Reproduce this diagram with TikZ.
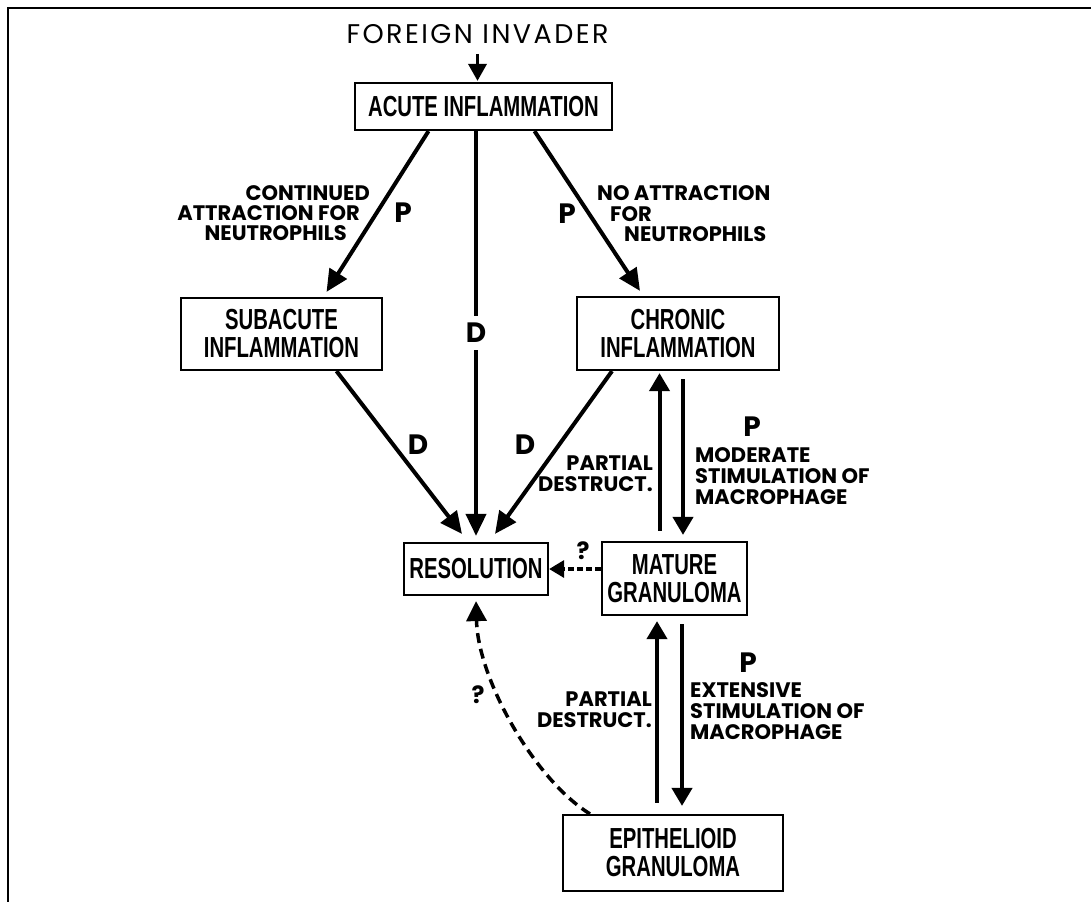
\documentclass[tikz,border=0pt]{standalone}
\usepackage{fontspec}
\setmainfont{Poppins}
\newfontfamily\boxfont[FakeStretch=0.70]{Liberation Sans}
\newfontfamily\topfont[LetterSpace=9]{Poppins}
\usetikzlibrary{arrows.meta}
\begin{document}
\begin{tikzpicture}[x=1pt,y=-1pt,
  box/.style={draw, line width=2.2pt, align=center, inner sep=0pt,
    font=\boxfont\bfseries\fontsize{29}{28}\selectfont},
  lab/.style={inner sep=0pt, font=\bfseries\fontsize{21}{21}\selectfont},
  big/.style={inner sep=0pt, font=\bfseries\fontsize{28}{28}\selectfont},
  qmark/.style={inner sep=0pt, font=\bfseries\fontsize{24}{24}\selectfont},
  arr/.style={line width=4pt, -{Triangle[length=22pt,width=20pt]}},
  varr/.style={line width=4pt, -{Triangle[length=18pt,width=20pt]}},
  dotarr/.style={line width=3.2pt, dash pattern=on 6pt off 3pt, -{Triangle[length=15pt,width=17pt]}},
  curvarr/.style={line width=3.5pt, dash pattern=on 10pt off 6pt, -{Triangle[length=20pt,width=20pt]}},
  frame/.style={line width=2.5pt}]
\useasboundingbox (0,0) rectangle (1091,902);
% frame (top and left only)
\draw[frame] (1091,8) -- (8,8) -- (8,902);

% boxes
\node[box, minimum width=257pt, minimum height=47pt] (acute) at (483.5,106.5) {ACUTE INFLAMMATION};
\node[box, minimum width=201pt, minimum height=72pt] (subacute) at (281.5,334) {SUBACUTE\\INFLAMMATION};
\node[box, minimum width=202pt, minimum height=73pt] (chronic) at (678,333.5) {CHRONIC\\INFLAMMATION};
\node[box, minimum width=144pt, minimum height=52pt] (resolution) at (476,569) {RESOLUTION};
\node[box, minimum width=145pt, minimum height=73pt] (mature) at (674.5,578.5) {MATURE\\GRANULOMA};
\node[box, minimum width=220pt, minimum height=76pt] (epithelioid) at (673,853) {EPITHELIOID\\GRANULOMA};

% top text
\node[inner sep=0pt, font=\topfont\fontsize{27}{27}\selectfont] (invader) at (477.5,34) {FOREIGN INVADER};

% labels
\node[lab, anchor=east] (cont1) at (370,193) {CONTINUED};
\node[lab, anchor=east] (cont2) at (360,213) {ATTRACTION FOR};
\node[lab, anchor=east] (cont3) at (347,233) {NEUTROPHILS};
\node[lab, anchor=west] (noat1) at (597,193) {NO ATTRACTION};
\node[lab, anchor=west] (noat2) at (610,214) {FOR};
\node[lab, anchor=west] (noat3) at (624,234) {NEUTROPHILS};
\node[big] (p1) at (403,213) {P};
\node[big] (p2) at (567,214) {P};
\node[big] (d2) at (418,445) {D};
\node[big] (d3) at (525,445) {D};
\node[lab, align=right, anchor=east] (pd1) at (653,474) {PARTIAL\\DESTRUCT.};
\node[lab, align=left, anchor=west] (mod) at (695,476) {MODERATE\\STIMULATION OF\\MACROPHAGE};
\node[big] (p3) at (752,427) {P};
\node[lab, align=right, anchor=east] (pd2) at (652,710) {PARTIAL\\DESTRUCT.};
\node[lab, align=left, anchor=west] (ext) at (690,711) {EXTENSIVE\\STIMULATION OF\\MACROPHAGE};
\node[big] (p4) at (748,663) {P};
\node[qmark] (q1) at (583,551) {?};
\node[qmark] (q2) at (478,695) {?};

% connectors
\draw[line width=3.5pt, -{Triangle[length=17pt,width=18pt]}, shorten <=10pt]
  (invader.south) -- ([yshift=1pt]invader.south |- acute.north);
\draw[arr] ([xshift=-55pt]acute.south) -- ([xshift=45pt,yshift=5pt]subacute.north);
\draw[arr] ([xshift=51pt]acute.south) -- ([xshift=-38pt,yshift=5pt]chronic.north);
\draw[arr] (acute.south -| resolution.north) -- ([yshift=6pt]resolution.north);
\node[big, fill=white, inner sep=7pt] (d1) at (476,333) {D};
\draw[arr] ([xshift=55pt]subacute.south) -- ([xshift=-14pt,yshift=8pt]resolution.north);
\draw[arr] ([xshift=-66pt]chronic.south) -- ([xshift=19pt,yshift=8pt]resolution.north);

\coordinate (u1) at ([xshift=-15pt,yshift=10pt]mature.north);
\draw[varr, shorten >=2pt] (u1) -- (u1 |- chronic.south);
\coordinate (dn1) at ([xshift=5pt,yshift=-8pt]chronic.south);
\draw[varr, shorten >=6pt] (dn1) -- (dn1 |- mature.north);
\coordinate (u2) at ([xshift=-16pt,yshift=11pt]epithelioid.north);
\draw[varr, shorten >=5pt] (u2) -- (u2 |- mature.south);
\coordinate (dn2) at ([xshift=7.5pt,yshift=-8pt]mature.south);
\draw[varr, shorten >=8pt] (dn2) -- (dn2 |- epithelioid.north);

\draw[dotarr] (mature.west |- resolution.east) -- (resolution.east);
\draw[curvarr] ([xshift=-83pt]epithelioid.north) .. controls (535,780) and (478,680) .. ([yshift=-5pt]resolution.south);
\end{tikzpicture}
\end{document}
